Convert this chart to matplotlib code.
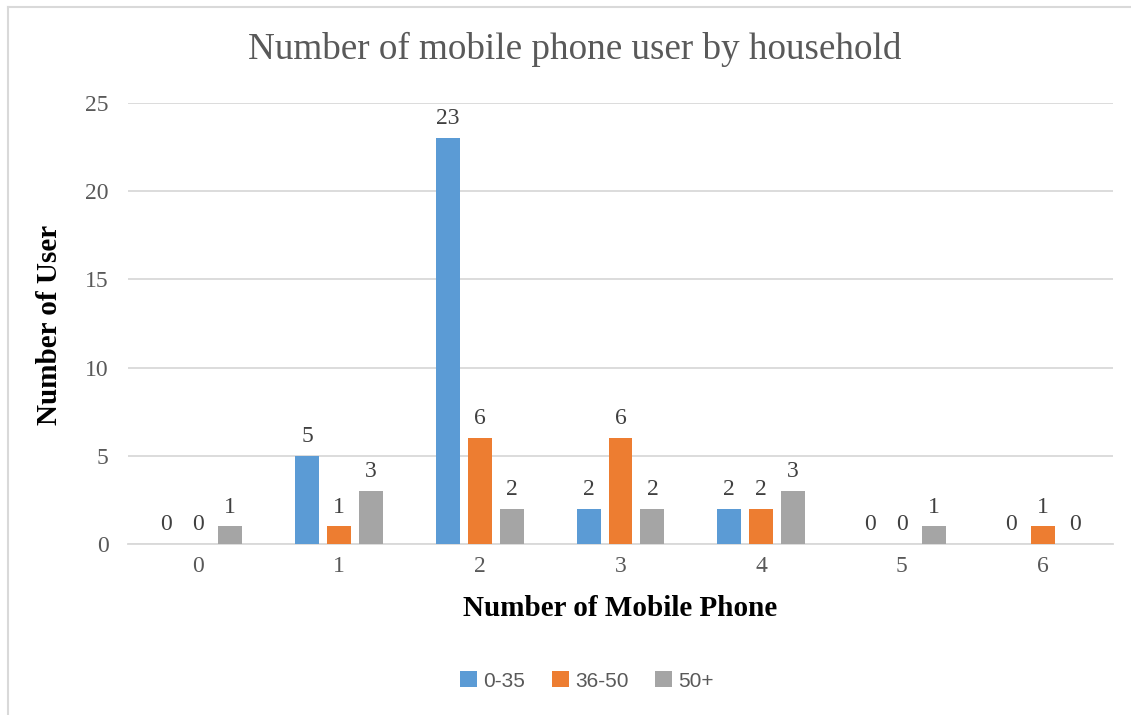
import numpy as np
import matplotlib.pyplot as plt
from matplotlib.lines import Line2D

phones = ['0', '1', '2', '3', '4', '5', '6']
series = ['0-35', '36-50', '50+']
age_0_35 = [0, 5, 23, 2, 2, 0, 0]
age_36_50 = [0, 1, 6, 6, 2, 0, 1]
age_50_plus = [1, 3, 2, 2, 3, 1, 0]
colors = ['#5b9bd5', '#ed7d31', '#a5a5a5']

W, H = 1131, 715
fig = plt.figure(figsize=(W / 100, H / 100), dpi=100)
ax = fig.add_axes([128 / W, 1 - 544 / H, (1113 - 128) / W, (544 - 103) / H])

serif = 'Liberation Serif'
x = np.arange(len(phones))
bw = 0.17
step = 0.227
for i, (vals, name) in enumerate(zip([age_0_35, age_36_50, age_50_plus], series)):
    pos = x + (i - 1) * step
    bars = ax.bar(pos, vals, bw, color=colors[i], label=name, zorder=3)
    for p, v in zip(pos, vals):
        ax.text(p, v + 0.5, str(v), ha='center', va='bottom', fontsize=17,
                family=serif, color='#404040')

ax.set_xlim(-0.5, len(phones) - 0.5)
ax.set_ylim(0, 25)
ax.set_yticks(range(0, 26, 5))
ax.set_xticks(x)
ax.set_xticklabels(phones)
ax.yaxis.grid(True, color='#d9d9d9', linewidth=1.3, zorder=0)
for s in ['top', 'right', 'left']:
    ax.spines[s].set_visible(False)
ax.spines['bottom'].set_color('#d9d9d9')
ax.spines['bottom'].set_linewidth(1.3)
ax.tick_params(length=0, labelsize=17, labelcolor='#595959', pad=9)
ax.tick_params(axis='y', pad=14)
for lab in ax.get_xticklabels() + ax.get_yticklabels():
    lab.set_family(serif)

fig.text(575 / W, 1 - 49 / H, 'Number of mobile phone user by household',
         ha='center', va='center', fontsize=26.7, family=serif, color='#595959')
fig.text(50 / W, 1 - 325 / H, 'Number of User', rotation=90, ha='center', va='center',
         fontsize=21, family=serif, fontweight='bold', color='black')
fig.text(620 / W, 1 - 609 / H, 'Number of Mobile Phone', ha='center', va='center',
         fontsize=21, family=serif, fontweight='bold', color='black')

fig.legend(loc='center', bbox_to_anchor=(587 / W, 1 - 681 / H), ncol=3, frameon=False,
           prop={'family': 'Liberation Sans', 'size': 15}, handlelength=0.8,
           handleheight=0.8, handletextpad=0.3, columnspacing=1.3, labelcolor='#595959')

fig.add_artist(Line2D([8 / W, 8 / W], [0, 1 - 7 / H], transform=fig.transFigure,
                      color='#d9d9d9', linewidth=1.5))
fig.add_artist(Line2D([8 / W, 1], [1 - 7 / H, 1 - 7 / H], transform=fig.transFigure,
                      color='#d9d9d9', linewidth=1.5))

fig.savefig('out.png', dpi=100)
